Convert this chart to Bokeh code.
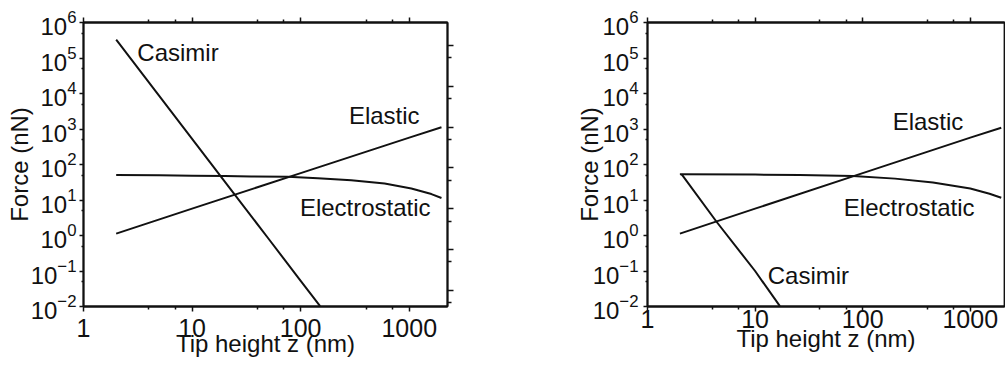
from bokeh.plotting import figure
from bokeh.models import (LogAxis, FixedTicker, NumeralTickFormatter, LogTickFormatter,
                          Range1d, LogScale, Label)
from bokeh.layouts import row
from bokeh.embed import file_html
from bokeh.resources import INLINE

# ---- tick values ----
x_major = [1, 10, 100, 1000]
x_minor = [4, 7, 40, 70, 400, 700]
y_major = [1e-2, 1e-1, 1, 10, 100, 1e3, 1e4, 1e5, 1e6]
y_minor = [5e-2, 5e-1, 5, 50, 500, 5e3, 5e4, 5e5]
r_major = [1, 10, 100, 1e3, 1e4, 1e5, 1e6]
r_minor = [0.5, 5, 50, 500, 5e3, 5e4, 5e5]

# ---- ranges ----
x_range_left = (1, 2250)
x_range_right = (1, 2080)
y_lim = (1e-2, 1e6)
right_axis_lim = (0.4, 3.7e6)

# ---- left panel data ----
casimir_l_z = [2, 5, 10, 20, 50, 100, 151]
casimir_l_f = [3.3e5, 8.4e3, 530, 33, 0.85, 0.053, 0.0102]
elastic_l_z = [2, 10, 100, 1000, 1980]
elastic_l_f = [1.13, 5.7, 57, 570, 1120]
electro_l_z = [2, 5, 10, 20, 35, 76, 144, 292, 593, 1045, 1600, 1980]
electro_l_f = [51, 49.5, 48.5, 47.5, 46, 45, 41, 36, 29, 21, 14.7, 11.4]

# ---- right panel data ----
casimir_r_z = [2.08, 4.4, 10, 17]
casimir_r_f = [53, 2.4, 0.1, 0.0102]
elastic_r_z = [2, 10, 100, 1000, 1940]
elastic_r_f = [1.13, 5.7, 57, 570, 1080]
electro_r_z = [2, 10, 26, 81, 200, 450, 1000, 1510, 1940]
electro_r_f = [53, 52, 50.7, 47.5, 40, 31, 21, 15, 11.6]

FONT = "Liberation Sans"
BLACK = "#111111"


def style_axis(ax, labels=True, tick_out=4, minor_out=2, size="24px"):
    ax.axis_line_color = BLACK
    ax.axis_line_width = 1.8
    ax.major_tick_line_color = BLACK
    ax.minor_tick_line_color = BLACK
    ax.major_tick_line_width = 1.5
    ax.minor_tick_line_width = 1.5
    ax.major_tick_in = 0
    ax.minor_tick_in = 0
    ax.major_tick_out = tick_out
    ax.minor_tick_out = minor_out
    ax.major_label_text_font = FONT
    ax.major_label_text_color = BLACK
    ax.axis_label_text_font = FONT
    ax.axis_label_text_font_style = "normal"
    ax.axis_label_text_color = BLACK
    if labels:
        ax.major_label_text_font_size = size
    else:
        ax.major_label_text_font_size = "1px"
        ax.major_label_text_color = None
        ax.major_label_standoff = 0


def panel(width, xr, mb_left, mb_right, mb_bottom, y_tick_standoff, y_title_standoff,
          x_tick_standoff, x_title_standoff):
    p = figure(width=width, height=366, x_axis_type="log", y_axis_type="log",
               x_range=Range1d(*xr), y_range=Range1d(*y_lim),
               toolbar_location=None, output_backend="svg",
               min_border_left=mb_left, min_border_right=mb_right,
               min_border_top=22, min_border_bottom=mb_bottom)
    p.grid.visible = False
    p.outline_line_color = BLACK
    p.outline_line_width = 1.8
    p.background_fill_color = "white"
    p.border_fill_color = "white"

    xa = p.xaxis[0]
    xa.ticker = FixedTicker(ticks=x_major, minor_ticks=x_minor)
    xa.formatter = NumeralTickFormatter(format="0")
    style_axis(xa, tick_out=5, minor_out=3, size="25px")
    xa.major_label_standoff = x_tick_standoff
    xa.axis_label = "Tip height z (nm)"
    xa.axis_label_text_font_size = "24px"
    xa.axis_label_standoff = x_title_standoff

    ya = p.yaxis[0]
    ya.ticker = FixedTicker(ticks=y_major, minor_ticks=y_minor)
    ya.formatter = LogTickFormatter()
    style_axis(ya, tick_out=4, minor_out=2, size="24px")
    ya.major_label_standoff = y_tick_standoff
    ya.axis_label = "Force (nN)"
    ya.axis_label_text_font_size = "24px"
    ya.axis_label_standoff = y_title_standoff

    top = LogAxis(ticker=FixedTicker(ticks=x_major, minor_ticks=x_minor))
    style_axis(top, labels=False, tick_out=5, minor_out=3)
    p.add_layout(top, "above")
    return p


def lbl(p, x, y, text):
    p.add_layout(Label(x=x, y=y, text=text, text_font=FONT, text_font_size="24px",
                       text_color=BLACK, text_baseline="middle", text_align="left"))


# Left panel
p1 = panel(540, x_range_left, 83, 93, 57, 3, -5, 7, -10)
p1.extra_y_ranges = {"r": Range1d(*right_axis_lim)}
p1.extra_y_scales = {"r": LogScale()}
ra = LogAxis(y_range_name="r", ticker=FixedTicker(ticks=r_major, minor_ticks=r_minor))
style_axis(ra, labels=False, tick_out=6, minor_out=4)
p1.add_layout(ra, "right")

for zz, ff in [(casimir_l_z, casimir_l_f), (elastic_l_z, elastic_l_f), (electro_l_z, electro_l_f)]:
    p1.line(zz, ff, line_color=BLACK, line_width=2)
lbl(p1, 3.13, 1.43e5, "Casimir")
lbl(p1, 278, 2440, "Elastic")
lbl(p1, 98.4, 6.17, "Electrostatic")

# Right panel
p2 = panel(465, x_range_right, 107, 1, 60, 5, -13, -2, -6)
for zz, ff in [(casimir_r_z, casimir_r_f), (elastic_r_z, elastic_r_f), (electro_r_z, electro_r_f)]:
    p2.line(zz, ff, line_color=BLACK, line_width=2)
lbl(p2, 190, 1675, "Elastic")
lbl(p2, 66.8, 5.97, "Electrostatic")
lbl(p2, 13.1, 0.073, "Casimir")

layout = row(p1, p2)
open("out.html", "w").write(file_html(layout, INLINE))
